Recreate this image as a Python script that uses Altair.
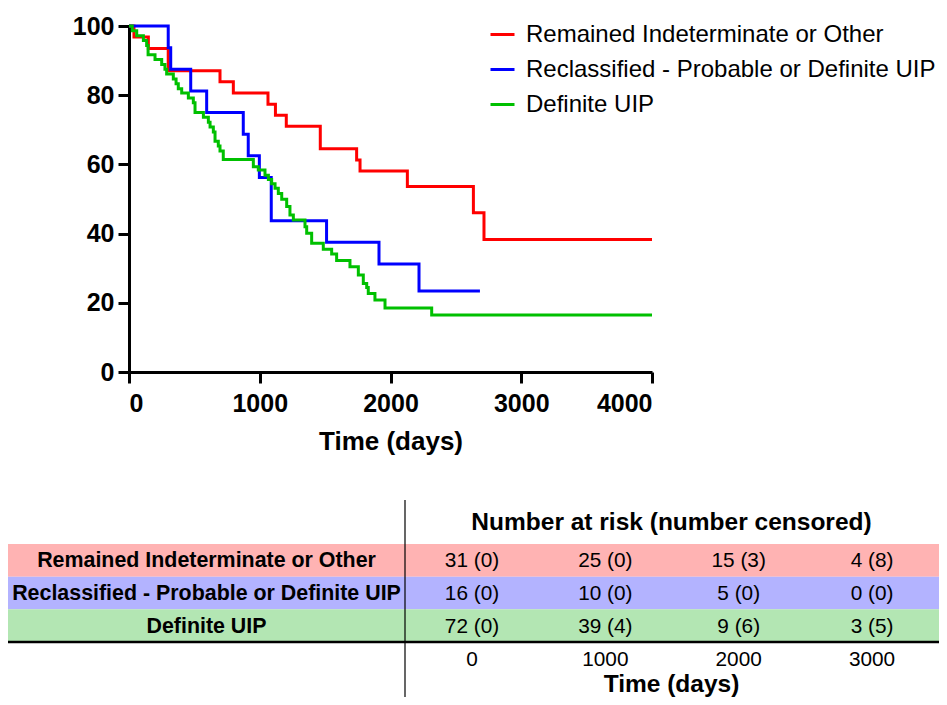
import altair as alt
import pandas as pd

groups = ["Remained Indeterminate or Other",
          "Reclassified - Probable or Definite UIP",
          "Definite UIP"]
line_colors = ["#FF0000", "#0000FF", "#00C000"]
bg_colors = ["#FFB3B3", "#B3B3FF", "#B3E6B3"]

# Kaplan-Meier step curves (time in days, survival %)
red_t = [0, 38, 148, 300, 696, 798, 1063, 1120, 1203, 1463, 1741, 1767, 2129, 2634, 2715, 4000]
red_s = [100, 96.8, 93.5, 87.1, 83.9, 80.6, 77.4, 74.2, 71.0, 64.5, 61.3, 58.1, 53.6, 46.0, 38.3, 38.3]

blue_t = [0, 300, 319, 472, 594, 874, 912, 997, 1088, 1511, 1912, 2218, 2684]
blue_s = [100, 93.75, 87.5, 81.25, 75.0, 68.75, 62.5, 56.25, 43.75, 37.5, 31.25, 23.4, 23.4]

green_t = [0, 25, 59, 110, 135, 146, 199, 250, 275, 288,
           339, 360, 377, 403, 454, 492, 505, 569, 607, 620,
           645, 658, 683, 696, 721, 951, 989, 1040, 1066, 1091,
           1117, 1142, 1168, 1206, 1231, 1257, 1346, 1359, 1397, 1486,
           1550, 1588, 1690, 1754, 1792, 1818, 1830, 1881, 1958, 2315,
           4000]
green_s = [100, 98.6, 97.2, 95.8, 94.4, 91.7, 90.3, 88.9, 87.5, 86.1,
           84.7, 83.3, 81.9, 80.6, 79.2, 77.8, 75.0, 73.6, 72.2, 70.8,
           69.4, 66.7, 65.3, 63.9, 61.4, 59.3, 58.4, 56.9, 55.6, 54.4,
           53.1, 51.6, 49.9, 47.8, 45.4, 43.9, 42.0, 40.1, 37.2, 35.5,
           34.1, 32.2, 30.4, 28.0, 25.6, 24.4, 22.7, 20.8, 18.5, 16.5,
           16.5]

x_ticks = [0, 1000, 2000, 3000, 4000]
y_ticks = [0, 20, 40, 60, 80, 100]

# Number-at-risk table
risk_times = [0, 1000, 2000, 3000]
risk_red = ["31 (0)", "25 (0)", "15 (3)", "4 (8)"]
risk_blue = ["16 (0)", "10 (0)", "5 (0)", "0 (0)"]
risk_green = ["72 (0)", "39 (4)", "9 (6)", "3 (5)"]
table_header = "Number at risk (number censored)"
table_xtitle = "Time (days)"

FONT = "Liberation Sans"

rows = []
for g, ts, vs in zip(groups, [red_t, blue_t, green_t], [red_s, blue_s, green_s]):
    for t, v in zip(ts, vs):
        rows.append({"group": g, "time": t, "surv": v})
km_df = pd.DataFrame(rows)

risk_rows = []
for g, vals in zip(groups, [risk_red, risk_blue, risk_green]):
    for t, s in zip(risk_times, vals):
        risk_rows.append({"group": g, "time": t, "label": s})
risk_df = pd.DataFrame(risk_rows)
group_df = pd.DataFrame({"group": groups})
tick_df = pd.DataFrame({"time": risk_times, "label": [str(t) for t in risk_times]})
one_df = pd.DataFrame({"a": [0]})

# ---------------- KM plot ----------------
km = alt.Chart(km_df).mark_line(interpolate="step-after", strokeWidth=3).encode(
    x=alt.X("time:Q",
            scale=alt.Scale(domain=[0, 4000], nice=False, zero=False),
            axis=alt.Axis(values=x_ticks, format="d", title="Time (days)", labelPadding=8,
                          titleFontSize=26, titleFontWeight="bold", titlePadding=12)),
    y=alt.Y("surv:Q",
            scale=alt.Scale(domain=[0, 100], nice=False),
            axis=alt.Axis(values=y_ticks, format="d", title=None, labelPadding=4)),
    color=alt.Color("group:N",
                    scale=alt.Scale(domain=groups, range=line_colors),
                    legend=alt.Legend(title=None, orient="none", legendX=360, legendY=-5,
                                      symbolType="stroke", symbolStrokeWidth=3, symbolSize=576,
                                      labelFont=FONT, labelFontSize=24, labelColor="black",
                                      labelLimit=700, rowPadding=9, labelOffset=10, padding=0)),
)

# ---------------- Table ----------------
tx = alt.Scale(domain=[0, 3000], range=[343, 743], nice=False, zero=False)
ty = alt.Scale(type="band", domain=groups, range=[518, 616], paddingInner=0, paddingOuter=0)

bg = alt.Chart(group_df).mark_rect().encode(
    y=alt.Y("group:N", scale=ty, axis=None),
    x=alt.value(-121), x2=alt.value(810),
    fill=alt.Fill("group:N", scale=alt.Scale(domain=groups, range=bg_colors), legend=None),
)
hline = alt.Chart(one_df).mark_rule(color="black", strokeWidth=2.5).encode(
    y=alt.value(616), x=alt.value(-121), x2=alt.value(810))
vline = alt.Chart(one_df).mark_rule(color="black", strokeWidth=1.2).encode(
    x=alt.value(276), y=alt.value(474), y2=alt.value(671))

row_labels = alt.Chart(group_df).mark_text(font=FONT, fontSize=21.4, fontWeight="bold",
                                           color="black", align="center", baseline="middle",
                                           dy=1).encode(
    y=alt.Y("group:N", scale=ty, axis=None), x=alt.value(77.5), text="group:N")

risk_text = alt.Chart(risk_df).mark_text(font=FONT, fontSize=20.8, color="black",
                                         align="center", baseline="middle", dy=1).encode(
    x=alt.X("time:Q", scale=tx, axis=None),
    y=alt.Y("group:N", scale=ty, axis=None),
    text="label:N")

tick_text = alt.Chart(tick_df).mark_text(font=FONT, fontSize=20.8, color="black",
                                         align="center", baseline="middle").encode(
    x=alt.X("time:Q", scale=tx, axis=None), y=alt.value(634), text="label:N")

header = alt.Chart(pd.DataFrame({"t": [table_header]})).mark_text(
    font=FONT, fontSize=24.5, fontWeight="bold", color="black", align="center", baseline="middle"
).encode(x=alt.value(542.5), y=alt.value(497), text="t:N")

xtitle = alt.Chart(pd.DataFrame({"t": [table_xtitle]})).mark_text(
    font=FONT, fontSize=24.5, fontWeight="bold", color="black", align="center", baseline="middle"
).encode(x=alt.value(542.5), y=alt.value(659), text="t:N")

table = alt.layer(bg, vline, hline, row_labels, risk_text, tick_text, header, xtitle)

chart = alt.layer(km, table).resolve_scale(x="independent", y="independent").properties(
    width=523, height=346,
    autosize=alt.AutoSizeParams(type="none"),
    padding={"left": 121, "top": 18, "right": 287, "bottom": 325},
).configure_view(stroke=None).configure_axis(
    grid=False, domainColor="black", domainWidth=3, tickColor="black", tickWidth=3,
    tickSize=11, labelFont=FONT, labelFontSize=25, labelFontWeight="bold", labelColor="black",
    titleFont=FONT, titleColor="black",
)

chart.save("out.html", embed_options={"renderer": "svg", "actions": False})
